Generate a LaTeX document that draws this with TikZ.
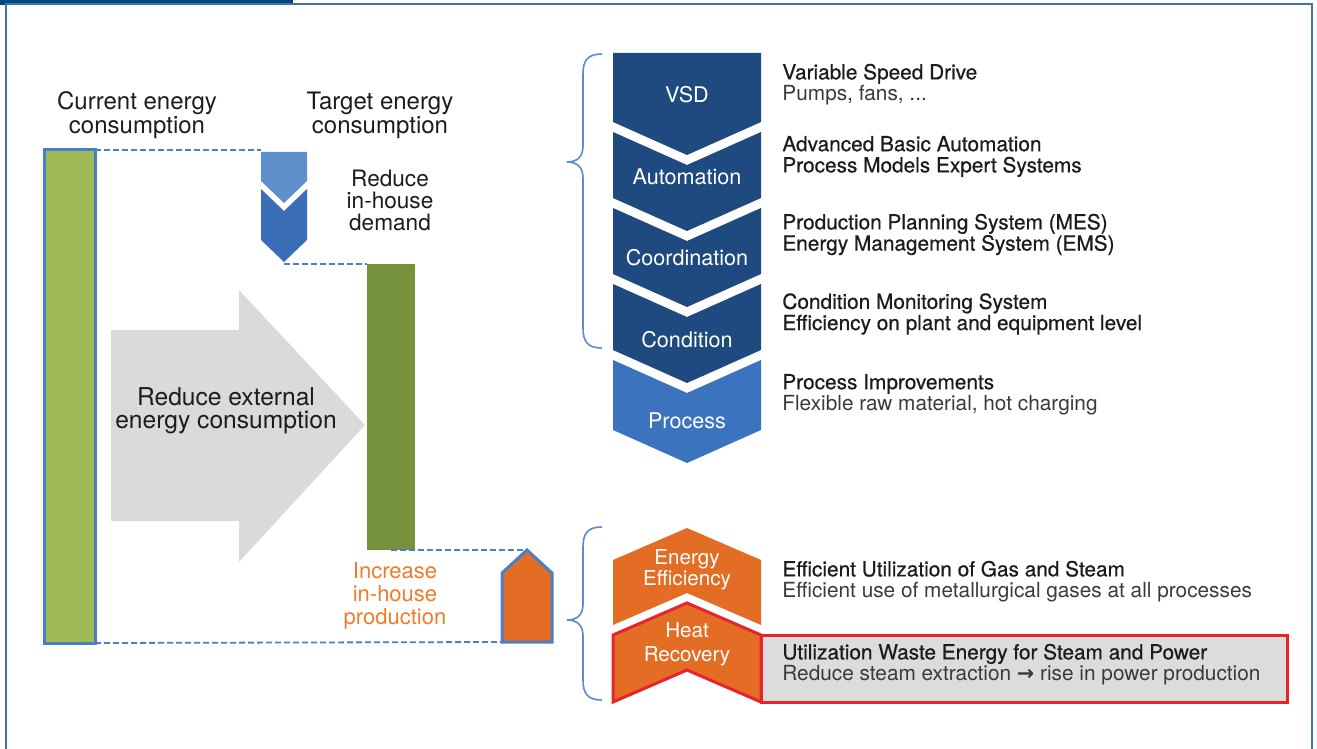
\documentclass[tikz,border=0pt]{standalone}
\usepackage{fontspec}
\setmainfont{TeX Gyre Heros}
\newfontfamily\medfont[BoldFont={TeX Gyre Heros},BoldFeatures={FakeBold=0.6}]{TeX Gyre Heros}
\newfontfamily\symfont{DejaVu Sans}
\definecolor{framenavy}{HTML}{00467F}
\definecolor{frameline}{HTML}{3C74A8}
\definecolor{chevnavy}{HTML}{1E4A80}
\definecolor{chevblue}{HTML}{3B73BE}
\definecolor{demlight}{HTML}{6090CB}
\definecolor{demdark}{HTML}{3A6FB8}
\definecolor{curgreen}{HTML}{9EBB57}
\definecolor{tgtgreen}{HTML}{76923C}
\definecolor{barline}{HTML}{4A7EC6}
\definecolor{arrgray}{HTML}{DADADA}
\definecolor{orfill}{HTML}{E36D25}
\definecolor{ortext}{HTML}{F07B2A}
\definecolor{hrred}{HTML}{E8232A}
\definecolor{boxgray}{HTML}{DCDCDC}
\definecolor{bracecol}{HTML}{5B8BD0}
\definecolor{txtdark}{HTML}{1C1C1C}
\definecolor{txtlight}{HTML}{3A3A3A}
\begin{document}
\begin{tikzpicture}
		[x=.5pt,y=-.5pt,
		every node/.style={inner sep=0pt,align=center},
		lbl/.style={text=white,font=\fontsize{10.8}{12}\selectfont},
		info/.style={anchor=west,align=left,text=txtdark,font=\fontsize{10.4}{10.6}\selectfont},
		head/.style={text=txtdark,font=\fontsize{12}{12}\selectfont},
		dline/.style={barline,line width=.9pt,dash pattern=on 3pt off 1.5pt},
		bar/.style={anchor=north west,outer sep=0pt},
		brace/.style={bracecol,line width=.8pt},]
		\useasboundingbox(0,0)rectangle(1317,749);
		\fill[framenavy](0,0)rectangle(293,5);
		\draw[frameline,line width=.8pt](6,749)--(6,4)--(1312,4)--(1312,749);
		\node[head](curlbl) at(137,115){Current energy\\consumption};
		\node[head](tgtlbl) at(380,115){Target energy\\consumption};
		\fill[arrgray](111,330)--(239,330)--(239,290)--(365,425)--(239,562)--(239,521)--(111,521)--cycle;
		\node[head,font=\fontsize{12.3}{11.5}\selectfont](ext) at(226,411){Reduce external\\energy consumption};
		\node[bar,fill=curgreen,draw=barline,line width=1.5pt,minimum width=25.5pt,minimum height=246.5pt](cur) at(44,150){};
		\node[bar,fill=tgtgreen,minimum width=24pt,minimum height=143pt](tgt) at(367,264){};
		\fill[demlight](261,152)--(307,152)--(307,181)--(284,203)--(261,181)--cycle;
		\fill[demdark](261,189)--(284,211)--(307,189)--(307,240)--(284,262)--(261,240)--cycle;
		\coordinate(d1) at(261,150);
		\coordinate(d2) at(284,264);
		\node[head,font=\fontsize{11.3}{11}\selectfont](dem) at(390,200){Reduce\\in-house\\demand};
		\draw[orfill,fill=orfill](502,642)--(502,573)--(527,550)--(552,573)--(552,642)--cycle;
		\draw[barline,line width=1.5pt](502,642)--(502,573)--(527,550)--(552,573)--(552,642)--cycle;
		\coordinate(h1) at(527,550);
		\coordinate(h2) at(502,642);
		\node[text=ortext,font=\fontsize{11}{11.5}\selectfont](prod) at(395,596){Increase\\in-house\\production};
		\draw[dline](cur.north east)--(d1);
		\draw[dline](d2)--(tgt.north west);
		\draw[dline](tgt.south)--(h1);
		\draw[dline](cur.south east)--(h2);
		\draw[brace](602,54)..controls(588,54)and(583,60)..(583,74)--(583,146)..controls(583,156)and(578,162)..(567,162)..controls(578,162)and(583,168)..(583,178)--(583,328)..controls(583,342)and(588,348)..(602,348);
		\draw[brace](602,527)..controls(588,527)and(583,533)..(583,547)--(583,604)..controls(583,614)and(578,620)..(567,620)..controls(578,620)and(583,626)..(583,636)--(583,680)..controls(583,694)and(588,700)..(602,700);
		\fill[chevnavy](613,53)--(761,53)--(761,122)--(687,155)--(613,122)--cycle;
		\fill[chevnavy](613,132)--(687,165)--(761,132)--(761,198)--(687,231)--(613,198)--cycle;
		\fill[chevnavy](613,208)--(687,241)--(761,208)--(761,274)--(687,307)--(613,274)--cycle;
		\fill[chevnavy](613,284)--(687,317)--(761,284)--(761,350)--(687,383)--(613,350)--cycle;
		\fill[chevblue](613,360)--(687,393)--(761,360)--(761,430)--(687,463)--(613,430)--cycle;
		\node[lbl](vsd) at(687,95){VSD};
		\node[lbl](auto) at(687,177){Automation};
		\node[lbl](coord) at(687,258){Coordination};
		\node[lbl](cond) at(687,340){Condition};
		\node[lbl](proc) at(687,421){Process};
		\fill[orfill](613,560)--(687,528)--(761,560)--(761,625)--(687,593)--(613,625)--cycle;
		\draw[hrred,line width=1.5pt,fill=boxgray](761,635)rectangle(1287,702);
		\draw[hrred,line width=1.5pt,fill=orfill](613,635)--(687,603)--(761,635)--(761,702)--(687,670)--(613,702)--cycle;
		\node[lbl,font=\fontsize{10.3}{10.5}\selectfont](ee) at(687,570){Energy\\Efficiency};
		\node[lbl,font=\fontsize{10.3}{12}\selectfont](hr) at(687,644){Heat\\Recovery};
		\node[info](i1) at(782,84.5){{\medfont\bfseries Variable Speed Drive}\\{\color{txtlight}Pumps, fans, ...}};
		\node[info](i2) at(782,156.5){\medfont\bfseries Advanced Basic Automation\\\medfont\bfseries Process Models Expert Systems};
		\node[info](i3) at(782,234.5){\medfont\bfseries Production Planning System (MES)\\\medfont\bfseries Energy Management System (EMS)};
		\node[info](i4) at(782,314){\medfont\bfseries Condition Monitoring System\\\medfont\bfseries Efficiency on plant and equipment level};
		\node[info](i5) at(782,394.5){{\medfont\bfseries Process Improvements}\\{\color{txtlight}Flexible raw material, hot charging}};
		\node[info](i6) at(782,581.5){{\medfont\bfseries Efficient Utilization of Gas and Steam}\\{\color{txtlight}Efficient use of metallurgical gases at all processes}};
		\node[info](i7) at(782,664.5){{\medfont\bfseries Utilization Waste Energy for Steam and Power}\\{\color{txtlight}Reduce steam extraction {\symfont\bfseries →} rise in power production}};
	\end{tikzpicture}
\end{document}
